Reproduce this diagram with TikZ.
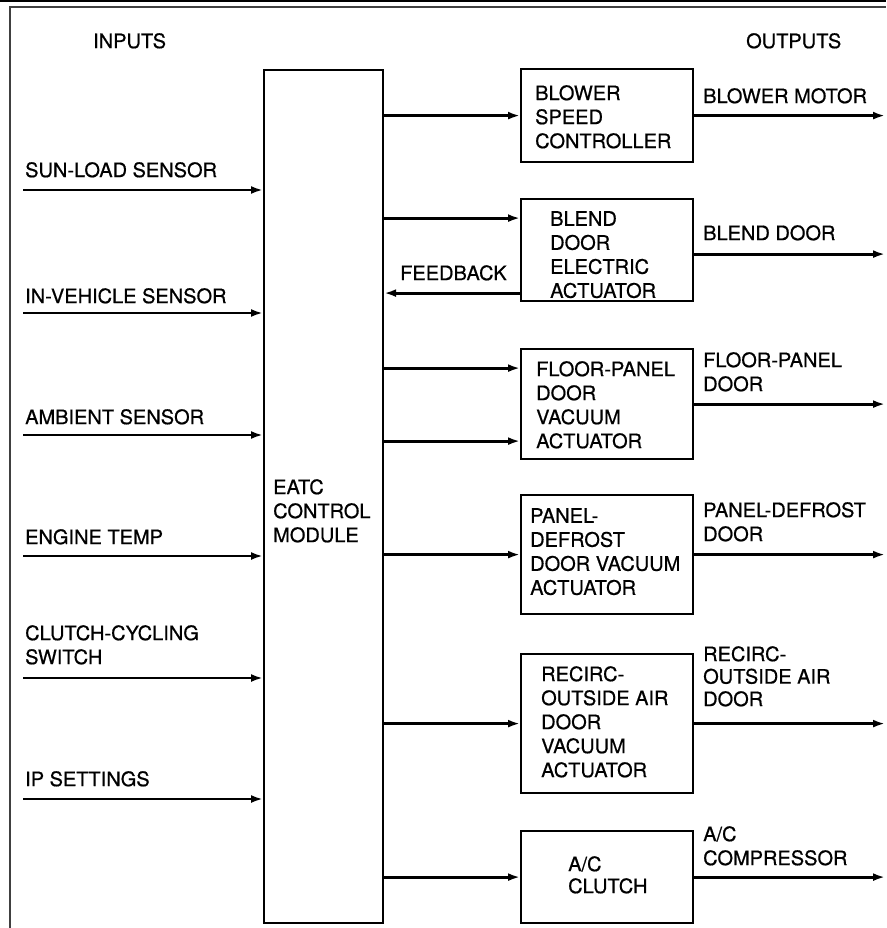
\documentclass[tikz,border=0pt]{standalone}
\usepackage{fontspec}
\setmainfont[FakeBold=0.6]{TeX Gyre Heros}
\usetikzlibrary{arrows.meta}
\begin{document}
\begin{tikzpicture}[x=1pt,y=-1pt,
  blk/.style={draw, line width=2.2pt, inner sep=0pt, anchor=north west},
  lbl/.style={font=\fontsize{20}{24}\selectfont, align=left, anchor=north west, inner sep=0pt},
  conn/.style={line width=2.8pt, -{Latex[length=12pt,width=8pt]}},
  frame/.style={line width=2pt}]
\useasboundingbox (0,0) rectangle (886,928);
% frame
\draw[frame] (0,1) -- (886,1);
\draw[frame, black!75] (10,928) -- (10,7) -- (886,7);
% blocks
\node[blk, minimum width=119pt, minimum height=853pt] (eatc) at (263,69) {};
\node[blk, minimum width=172pt, minimum height=93pt] (blower) at (520,68) {};
\node[blk, minimum width=172pt, minimum height=102pt] (blend) at (520,198) {};
\node[blk, minimum width=172pt, minimum height=110pt] (floor) at (520,348) {};
\node[blk, minimum width=172pt, minimum height=119pt] (panel) at (520,494) {};
\node[blk, minimum width=172pt, minimum height=139pt] (recirc) at (520,653) {};
\node[blk, minimum width=172pt, minimum height=92pt] (ac) at (520,830) {};
% texts
\node[lbl] (tin) at (93,33) {INPUTS};
\node[lbl] (tout) at (746,33) {OUTPUTS};
\node[lbl] (tsun) at (25,162) {SUN-LOAD SENSOR};
\node[lbl] (tveh) at (25,288) {IN-VEHICLE SENSOR};
\node[lbl] (tamb) at (25,409) {AMBIENT SENSOR};
\node[lbl] (teng) at (25,529) {ENGINE TEMP};
\node[lbl] (tclu) at (25,625) {CLUTCH-CYCLING\\SWITCH};
\node[lbl] (tip) at (25,771) {IP SETTINGS};
\node[lbl] (teatc) at (273,479) {EATC\\CONTROL\\MODULE};
\node[lbl] (tblower) at (535,85) {BLOWER\\SPEED\\CONTROLLER};
\node[lbl] (tblend) at (550,211) {BLEND\\DOOR\\ELECTRIC\\ACTUATOR};
\node[lbl] (tfb) at (400,265) {FEEDBACK};
\node[lbl] (tfloor) at (536,361) {FLOOR-PANEL\\DOOR\\VACUUM\\ACTUATOR};
\node[lbl] (tpanel) at (530,508) {PANEL-\\DEFROST\\DOOR VACUUM\\ACTUATOR};
\node[lbl] (trecirc) at (541,666) {RECIRC-\\OUTSIDE AIR\\DOOR\\VACUUM\\ACTUATOR};
\node[lbl, font=\fontsize{20}{22}\selectfont] (tac) at (568,856) {A/C\\CLUTCH};
\node[lbl] (oblower) at (703,88) {BLOWER MOTOR};
\node[lbl] (oblend) at (703,225) {BLEND DOOR};
\node[lbl] (ofloor) at (703,352) {FLOOR-PANEL\\DOOR};
\node[lbl] (opanel) at (703,502) {PANEL-DEFROST\\DOOR};
\node[lbl, font=\fontsize{20}{22.5}\selectfont] (orecirc) at (703,646) {RECIRC-\\OUTSIDE AIR\\DOOR};
\node[lbl] (oac) at (703,826) {A/C\\COMPRESSOR};
% input connectors
\coordinate (i1) at (23,190);
\coordinate (i2) at (23,313);
\coordinate (i3) at (23,435);
\coordinate (i4) at (23,556);
\coordinate (i5) at (23,678);
\coordinate (i6) at (23,799);
\foreach \c in {i1,i2,i3,i4,i5,i6}
  \draw[conn] (\c) -- (\c -| eatc.west);
% control to actuators
\coordinate (bl1) at ([yshift=32pt]blend.west);
\coordinate (bl2) at ([yshift=-43pt]blend.west);
\coordinate (fl1) at ([yshift=36pt]floor.west);
\coordinate (fl2) at ([yshift=-37pt]floor.west);
\draw[conn] (blower.west -| eatc.east) -- (blower.west);
\draw[conn] (bl1 -| eatc.east) -- (bl1);
\draw[conn] (bl2) -- (bl2 -| eatc.east);
\draw[conn] (fl1 -| eatc.east) -- (fl1);
\draw[conn] (fl2 -| eatc.east) -- (fl2);
\draw[conn] (panel.west -| eatc.east) -- (panel.west);
\draw[conn] (recirc.west -| eatc.east) -- (recirc.west);
\draw[conn] (ac.west -| eatc.east) -- (ac.west);
% outputs
\coordinate (edge) at (885,0);
\coordinate (bo) at ([yshift=-4pt]blend.east);
\draw[conn] (blower.east) -- (blower.east -| edge);
\draw[conn] (bo) -- (bo -| edge);
\draw[conn] (floor.east) -- (floor.east -| edge);
\draw[conn] (panel.east) -- (panel.east -| edge);
\draw[conn] (recirc.east) -- (recirc.east -| edge);
\draw[conn] (ac.east) -- (ac.east -| edge);
\end{tikzpicture}
\end{document}
